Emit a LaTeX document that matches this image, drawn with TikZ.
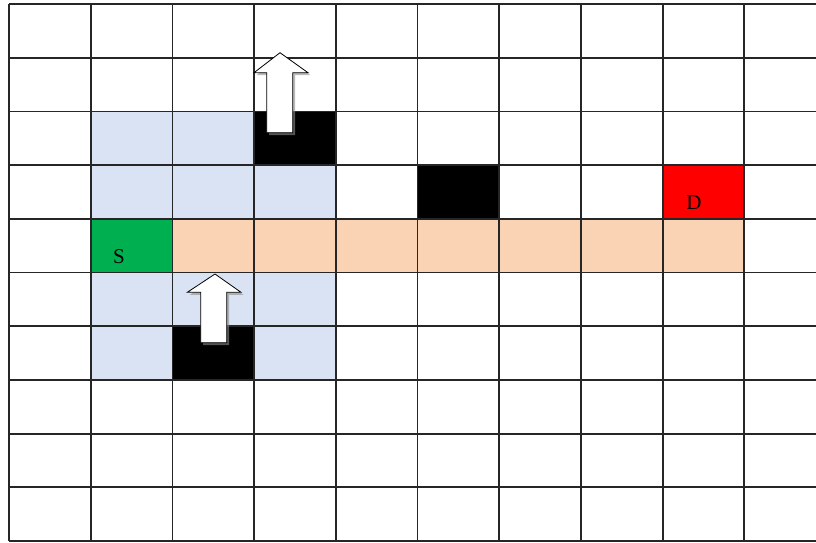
\documentclass[tikz,border=0pt]{standalone}
\usepackage{fontspec}
\setmainfont{Liberation Serif}
\definecolor{cellblue}{HTML}{DAE3F3}
\definecolor{cellpeach}{HTML}{F9D3B4}
\definecolor{cellgreen}{HTML}{00B050}
\definecolor{cellred}{HTML}{FF0000}
\newcommand\gridcell[3]{\fill[#3] ({9+81.7*#1},{4+53.7*#2}) rectangle ({9+81.7*(#1+1)},{4+53.7*(#2+1)});}
\tikzset{
  gridline/.style={line width=1.8pt, black!85},
  arrowshape/.style={fill=white, draw=black, line width=0.8pt, line join=miter},
  arrowshadow/.style={fill=black!45, opacity=0.6},
  celltext/.style={font=\fontsize{21}{21}\selectfont, inner sep=0pt}
}
\begin{document}
\begin{tikzpicture}[x=1pt,y=-1pt]
\useasboundingbox (0,0) rectangle (816,542);
\fill[white] (0,0) rectangle (816,542);
% light blue cells
\gridcell{1}{2}{cellblue}
\gridcell{2}{2}{cellblue}
\gridcell{1}{3}{cellblue}
\gridcell{2}{3}{cellblue}
\gridcell{3}{3}{cellblue}
\gridcell{1}{5}{cellblue}
\gridcell{2}{5}{cellblue}
\gridcell{3}{5}{cellblue}
\gridcell{1}{6}{cellblue}
\gridcell{3}{6}{cellblue}
% path cells
\foreach \i in {2,...,8} {\gridcell{\i}{4}{cellpeach}}
% source / destination
\gridcell{1}{4}{cellgreen}
\gridcell{8}{3}{cellred}
% obstacles
\gridcell{3}{2}{black}
\gridcell{5}{3}{black}
\gridcell{2}{6}{black}
% grid
\foreach \i in {0,...,9} {\draw[gridline] ({9+81.7*\i},4) -- ({9+81.7*\i},541);}
\foreach \j in {0,...,10} {\draw[gridline] (9,{4+53.7*\j}) -- (816,{4+53.7*\j});}
% arrows
\fill[arrowshadow,shift={(2.5,2.5)}] (280,52.7) -- (308,72.7) -- (292.7,72.7) -- (292.7,132.7) -- (266.7,132.7) -- (266.7,72.7) -- (254,72.7) -- cycle;
\draw[arrowshape] (280,52.7) -- (308,72.7) -- (292.7,72.7) -- (292.7,132.7) -- (266.7,132.7) -- (266.7,72.7) -- (254,72.7) -- cycle;
\fill[arrowshadow,shift={(2.5,2.5)}] (215,274) -- (241,292.3) -- (226.7,292.3) -- (226.7,342.7) -- (200.7,342.7) -- (200.7,292.3) -- (187.3,292.3) -- cycle;
\draw[arrowshape] (215,274) -- (241,292.3) -- (226.7,292.3) -- (226.7,342.7) -- (200.7,342.7) -- (200.7,292.3) -- (187.3,292.3) -- cycle;
% labels
\node[celltext] (S) at (119,257) {S};
\node[celltext] (D) at (694,203) {D};
\end{tikzpicture}
\end{document}
